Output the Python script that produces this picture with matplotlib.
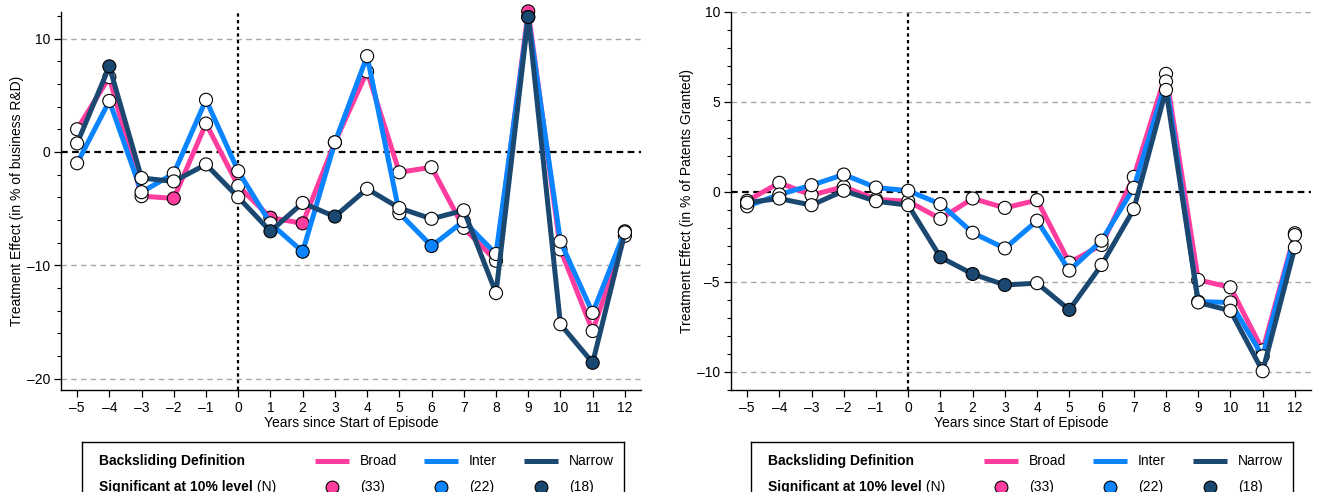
import matplotlib
matplotlib.use("Agg")
import matplotlib.pyplot as plt
import numpy as np
from matplotlib.ticker import MultipleLocator

plt.rcParams['font.family'] = ['Liberation Sans', 'DejaVu Sans']

# ---------------- data ----------------
years = list(range(-5, 13))
series_names = ["Broad", "Inter", "Narrow"]
series_colors = ["#ff3d9e", "#0a84ff", "#1b4870"]
n_significant = [33, 22, 18]

rd_broad = [2.0, 6.6, -3.9, -4.1, 2.5, -3.0, -5.8, -6.3, 0.85, 7.1, -1.8, -1.35, -6.7, -9.6, 12.4, -8.6, -15.8, -7.4]
rd_inter = [-1.0, 4.5, -3.55, -1.9, 4.6, -1.7, -6.3, -8.8, 0.85, 8.45, -5.4, -8.3, -6.1, -9.0, 11.9, -7.9, -14.2, -7.0]
rd_narrow = [0.75, 7.55, -2.3, -2.6, -1.1, -4.0, -7.0, -4.5, -5.7, -3.25, -4.95, -5.9, -5.15, -12.45, 11.9, -15.2, -18.6, -7.1]
rd_broad_sig = [-2, 1, 2, 9]
rd_inter_sig = [2, 6, 9]
rd_narrow_sig = [-4, 1, 3, 9, 11]

pat_broad = [-0.5, 0.5, -0.18, 0.28, -0.42, -0.52, -1.5, -0.37, -0.89, -0.46, -3.93, -2.95, 0.83, 6.55, -4.89, -5.3, -8.8, -2.3]
pat_inter = [-0.8, -0.15, 0.37, 0.96, 0.24, 0.06, -0.68, -2.27, -3.14, -1.6, -4.37, -2.71, 0.22, 6.13, -6.1, -6.14, -9.13, -2.4]
pat_narrow = [-0.6, -0.37, -0.74, 0.06, -0.52, -0.74, -3.63, -4.56, -5.17, -5.07, -6.55, -4.06, -0.96, 5.66, -6.14, -6.6, -9.96, -3.08]
pat_broad_sig = []
pat_inter_sig = []
pat_narrow_sig = [1, 2, 3, 5]

rd_yticks = [-20, -10, 0, 10]
pat_yticks = [-10, -5, 0, 5, 10]

# ---------------- figure ----------------
W, H = 1330, 492
fig = plt.figure(figsize=(W / 100, H / 100), dpi=100)

def px_axes(x0, y0, x1, y1):
    return fig.add_axes([x0 / W, 1 - y1 / H, (x1 - x0) / W, (y1 - y0) / H])

ax1 = px_axes(61, 12.5, 641, 390)
ax2 = px_axes(731, 11.7, 1311, 390)

def draw_panel(ax, data, sigs, ylim, yticks, yminor, ylabel):
    ax.set_xlim(-5.5, 12.5)
    ax.set_ylim(*ylim)
    for s in ["top", "right"]:
        ax.spines[s].set_visible(False)
    for s in ["left", "bottom"]:
        ax.spines[s].set_linewidth(1.0)
    ax.set_xticks(years)
    ax.set_xticklabels([str(y).replace("-", "\u2013") for y in years])
    ax.set_yticks(yticks)
    ax.set_yticklabels([str(y).replace("-", "\u2013") for y in yticks])
    ax.yaxis.set_minor_locator(MultipleLocator(yminor))
    ax.tick_params(axis="both", which="major", length=5, width=0.9, labelsize=10, pad=3)
    ax.tick_params(axis="y", which="minor", length=3, width=0.8)
    for yt in yticks:
        if yt != 0:
            ax.axhline(yt, color="#a8a8a8", lw=1.0, ls=(0, (4, 3)), zorder=1)
    ax.axhline(0, color="black", lw=1.6, ls=(0, (3, 2)), zorder=2)
    ax.axvline(0, color="black", lw=1.6, ls=(0, (1.5, 1.5)), zorder=2)
    for i, (vals, sig) in enumerate(zip(data, sigs)):
        c = series_colors[i]
        ax.plot(years, vals, color=c, lw=3.6, zorder=3 + 2 * i, solid_capstyle="round", clip_on=False)
        fc = [c if y in sig else "white" for y in years]
        ax.scatter(years, vals, s=88, c=fc, edgecolors="black", linewidths=0.8,
                   zorder=4 + 2 * i, clip_on=False)
    ax.set_xlabel("Years since Start of Episode", fontsize=10, labelpad=1)
    ax.set_ylabel(ylabel, fontsize=10, labelpad=2)

draw_panel(ax1, [rd_broad, rd_inter, rd_narrow], [rd_broad_sig, rd_inter_sig, rd_narrow_sig],
           (-21, 12.3), rd_yticks, 2, "Treatment Effect (in % of business R&D)")
draw_panel(ax2, [pat_broad, pat_inter, pat_narrow], [pat_broad_sig, pat_inter_sig, pat_narrow_sig],
           (-11, 10), pat_yticks, 1, "Treatment Effect (in % of Patents Granted)")

# ---------------- legends ----------------
def legend_box(x0):
    lax = px_axes(x0, 442, x0 + 542, 492 + 2)
    lax.set_xlim(0, 542)
    lax.set_ylim(52, 0)
    lax.set_xticks([])
    lax.set_yticks([])
    lax.patch.set_alpha(0)
    lax.spines["bottom"].set_visible(False)
    for s in ["left", "top", "right"]:
        lax.spines[s].set_linewidth(1.0)
    lax.text(17, 19, "Backsliding Definition", fontsize=10, fontweight="bold", va="center", ha="left")
    t = lax.text(17, 45, "Significant at 10% level", fontsize=10, fontweight="bold", va="center", ha="left")
    lax.annotate(" (N)", xycoords=t, xy=(1, 0.5), va="center", ha="left", fontsize=10)
    line_x = [233, 342, 442]
    for i in range(3):
        c = series_colors[i]
        lax.plot([line_x[i], line_x[i] + 34], [19, 19], color=c, lw=3.6, solid_capstyle="butt")
        lax.text(line_x[i] + 45, 19, series_names[i], fontsize=10, va="center", ha="left")
        lax.scatter([line_x[i] + 17], [45], s=85, c=c, edgecolors="black", linewidths=0.8)
        lax.text(line_x[i] + 45, 45, "(%d)" % n_significant[i], fontsize=10, va="center", ha="left")

legend_box(82)
legend_box(751)

fig.savefig("out.png", dpi=100)
